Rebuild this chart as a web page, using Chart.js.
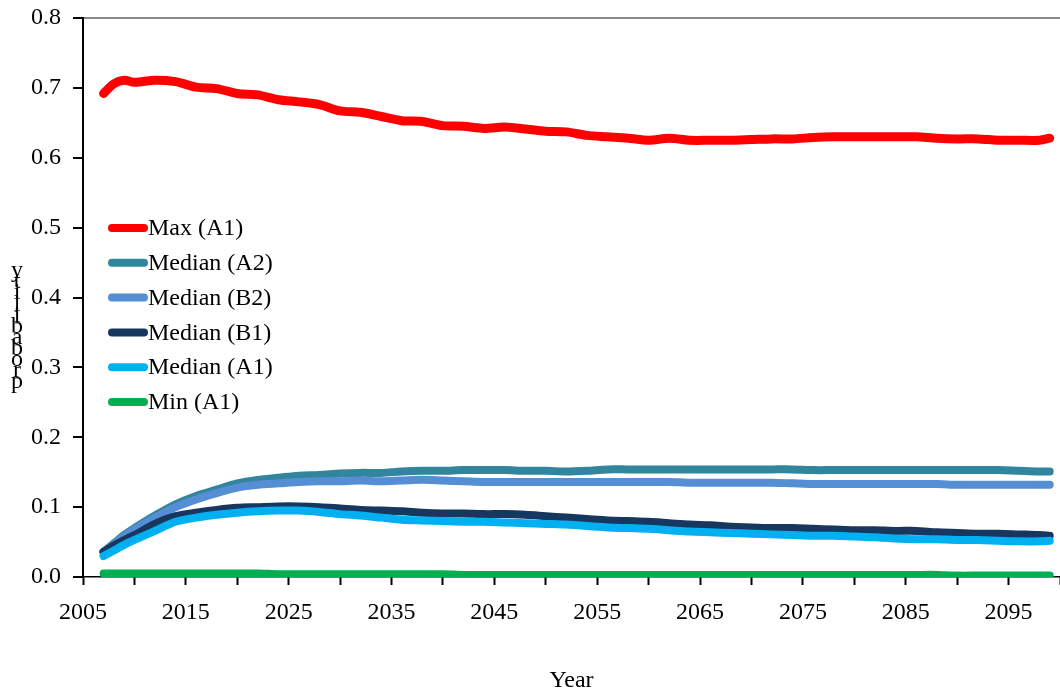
<!DOCTYPE html>
<html>
<head>
<meta charset="utf-8">
<script src="https://cdn.jsdelivr.net/npm/chart.js@4"></script>
<style>
  html, body { margin: 0; padding: 0; background: #fff; }
  #wrap { width: 1060px; height: 696px; }
</style>
</head>
<body>
<div id="wrap"><canvas id="c" width="1060" height="696"></canvas></div>
<script>
// 年份
const years = [2007, 2008, 2009, 2010, 2012, 2014, 2016, 2018, 2020, 2022, 2024, 2026, 2028, 2030, 2032, 2034, 2036, 2038, 2040, 2042, 2044, 2046, 2048, 2050, 2052, 2054, 2056, 2058, 2060, 2062, 2064, 2066, 2068, 2070, 2072, 2074, 2076, 2078, 2080, 2082, 2084, 2086, 2088, 2090, 2092, 2094, 2096, 2098, 2099];

const maxA1 = [0.692, 0.706, 0.711, 0.708, 0.711, 0.709, 0.701, 0.699, 0.692, 0.690, 0.683, 0.680, 0.676, 0.667, 0.665, 0.659, 0.653, 0.652, 0.646, 0.645, 0.642, 0.644, 0.641, 0.638, 0.637, 0.632, 0.630, 0.628, 0.625, 0.628, 0.625, 0.625, 0.625, 0.626, 0.627, 0.627, 0.629, 0.630, 0.630, 0.630, 0.630, 0.630, 0.628, 0.627, 0.627, 0.625, 0.625, 0.625, 0.628];

const medianA2 = [0.036, 0.048, 0.060, 0.070, 0.088, 0.104, 0.116, 0.125, 0.134, 0.139, 0.142, 0.145, 0.146, 0.148, 0.149, 0.149, 0.151, 0.152, 0.152, 0.153, 0.153, 0.153, 0.152, 0.152, 0.151, 0.152, 0.154, 0.154, 0.154, 0.154, 0.154, 0.154, 0.154, 0.154, 0.154, 0.154, 0.153, 0.153, 0.153, 0.153, 0.153, 0.153, 0.153, 0.153, 0.153, 0.153, 0.152, 0.151, 0.151];

const medianB2 = [0.036, 0.047, 0.058, 0.068, 0.085, 0.100, 0.111, 0.120, 0.128, 0.132, 0.134, 0.136, 0.137, 0.137, 0.138, 0.137, 0.138, 0.139, 0.138, 0.137, 0.136, 0.136, 0.136, 0.136, 0.136, 0.136, 0.136, 0.136, 0.136, 0.136, 0.135, 0.135, 0.135, 0.135, 0.135, 0.134, 0.133, 0.133, 0.133, 0.133, 0.133, 0.133, 0.133, 0.132, 0.132, 0.132, 0.132, 0.132, 0.132];

const medianB1 = [0.036, 0.045, 0.053, 0.060, 0.076, 0.087, 0.092, 0.096, 0.099, 0.100, 0.101, 0.101, 0.100, 0.098, 0.096, 0.095, 0.094, 0.092, 0.091, 0.091, 0.090, 0.090, 0.089, 0.087, 0.085, 0.083, 0.081, 0.080, 0.079, 0.077, 0.075, 0.074, 0.072, 0.071, 0.070, 0.070, 0.069, 0.068, 0.067, 0.067, 0.066, 0.066, 0.064, 0.063, 0.062, 0.062, 0.061, 0.060, 0.059];

const medianA1 = [0.030, 0.038, 0.046, 0.053, 0.066, 0.079, 0.085, 0.089, 0.092, 0.094, 0.095, 0.095, 0.093, 0.090, 0.088, 0.085, 0.082, 0.081, 0.080, 0.079, 0.079, 0.078, 0.077, 0.076, 0.075, 0.073, 0.071, 0.070, 0.069, 0.067, 0.065, 0.064, 0.063, 0.062, 0.061, 0.060, 0.059, 0.059, 0.058, 0.057, 0.055, 0.054, 0.054, 0.053, 0.053, 0.052, 0.051, 0.051, 0.052];

const minA1 = [0.005, 0.005, 0.005, 0.005, 0.005, 0.005, 0.005, 0.005, 0.005, 0.005, 0.004, 0.004, 0.004, 0.004, 0.004, 0.004, 0.004, 0.004, 0.004, 0.003, 0.003, 0.003, 0.003, 0.003, 0.003, 0.003, 0.003, 0.003, 0.003, 0.003, 0.003, 0.003, 0.003, 0.003, 0.003, 0.003, 0.003, 0.003, 0.003, 0.003, 0.003, 0.003, 0.003, 0.002, 0.002, 0.002, 0.002, 0.002, 0.002];

const seriesNames = ['Max (A1)', 'Median (A2)', 'Median (B2)', 'Median (B1)', 'Median (A1)', 'Min (A1)'];
const seriesData = [maxA1, medianA2, medianB2, medianB1, medianA1, minA1];
const seriesColors = ['#FF0000', '#31859C', '#558ED5', '#17375E', '#00B0F0', '#00B050'];
const drawOrder = [6, 5, 4, 3, 2, 1];

const yTicks = [0.0, 0.1, 0.2, 0.3, 0.4, 0.5, 0.6, 0.7, 0.8];
const yTitle = 'probability';

const serif = "'Liberation Serif', 'Times New Roman', serif";

// 图例 + 纵轴标题
const extras = {
    id: 'extras',
    afterDraw(chart) {
        const ctx = chart.ctx;
        ctx.save();
        ctx.font = '24px ' + serif;
        ctx.fillStyle = '#000';
        ctx.textBaseline = 'middle';
        chart.data.datasets.forEach((ds, i) => {
            const y = 228 + i * 34.8;
            ctx.strokeStyle = ds.borderColor;
            ctx.lineWidth = 8;
            ctx.lineCap = 'round';
            ctx.beginPath();
            ctx.moveTo(112, y);
            ctx.lineTo(144, y);
            ctx.stroke();
            ctx.textAlign = 'left';
            ctx.fillText(ds.label, 148, y + 1);
        });
        // 竖排字母
        ctx.textAlign = 'center';
        const letters = yTitle.split('');
        letters.forEach((ch, i) => {
            ctx.fillText(ch, 17, 382 - i * 11.1);
        });
        ctx.restore();
    }
};

new Chart(document.getElementById('c'), {
    type: 'line',
    data: {
        datasets: seriesNames.map((name, i) => ({
            label: name,
            data: years.map((yr, j) => ({ x: yr, y: seriesData[i][j] })),
            borderColor: seriesColors[i],
            backgroundColor: seriesColors[i],
            borderWidth: i === 0 ? 9 : 8,
            borderCapStyle: 'round',
            borderJoinStyle: 'round',
            pointRadius: 0,
            tension: 0.3,
            fill: false,
            order: drawOrder[i]
        }))
    },
    options: {
        responsive: false,
        animation: false,
        layout: { padding: { top: 18, left: 0, right: 0, bottom: 0 } },
        plugins: {
            legend: { display: false },
            tooltip: { enabled: false }
        },
        scales: {
            x: {
                type: 'linear',
                min: 2005,
                max: 2100,
                afterFit: s => { s.height = 119; s.paddingRight = 0; s.paddingLeft = 0; },
                border: { color: '#000', width: 1.5 },
                grid: { drawOnChartArea: false, drawTicks: true, tickLength: 8, tickColor: '#000', tickWidth: 2 },
                ticks: {
                    stepSize: 5,
                    autoSkip: false,
                    maxRotation: 0,
                    padding: 13,
                    color: '#000',
                    font: { family: serif, size: 24 },
                    callback: v => ((v - 2005) % 10 === 0 && v < 2100) ? String(v) : ''
                },
                title: {
                    display: true,
                    text: 'Year',
                    color: '#000',
                    font: { family: serif, size: 24 },
                    padding: { top: 0, bottom: 1 }
                }
            },
            y: {
                min: 0,
                max: 0.8,
                afterFit: s => { s.width = 83; s.paddingTop = 0; s.paddingBottom = 0; },
                afterBuildTicks: s => { s.ticks = yTicks.map(v => ({ value: v })); },
                border: { color: '#000', width: 2 },
                grid: {
                    drawTicks: true,
                    tickLength: 10,
                    tickColor: '#000',
                    tickWidth: 2,
                    lineWidth: 2,
                    color: c => c.tick && c.tick.value === 0.8 ? '#888888' : 'rgba(0,0,0,0)'
                },
                ticks: {
                    padding: 12,
                    color: '#000',
                    font: { family: serif, size: 24 },
                    callback: v => v.toFixed(1)
                }
            }
        }
    },
    plugins: [extras]
});
</script>
</body>
</html>
